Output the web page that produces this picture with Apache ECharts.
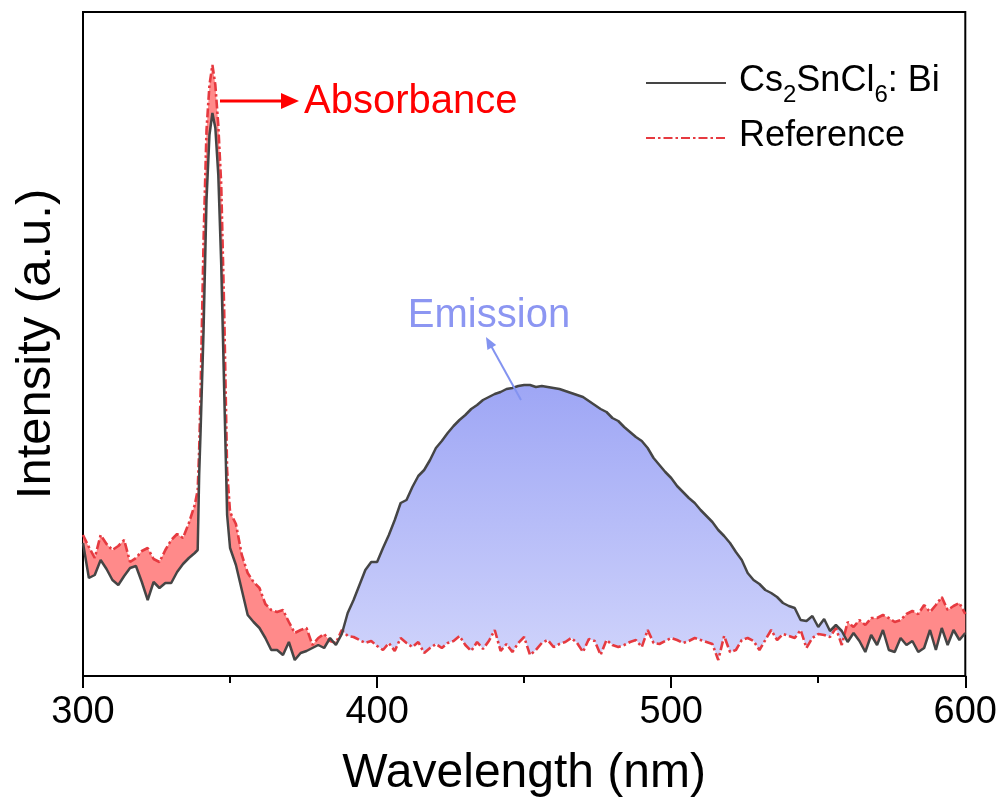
<!DOCTYPE html>
<html>
<head>
<meta charset="utf-8">
<script src="https://cdn.jsdelivr.net/npm/echarts@6/dist/echarts.min.js"></script>
<style>
html,body{margin:0;padding:0;background:#fff;}
#chart{width:1000px;height:812px;}
</style>
</head>
<body>
<div id="chart"></div>
<script>
// Wavelength grid (nm)
const wavelength = [300,302,304,306,308,310,312,314,316,318,320,322,324,326,328,330,332,334,336,338,339,339.5,340,341,342,343,344,345,346,347,348,349,350,352,354,356,358,360,362,364,366,368,370,372,374,376,378,380,382,384,386,388,390,392,394,396,398,400,402,404,406,408,410,412,414,416,418,420,422,424,426,428,430,432,434,436,438,440,442,444,446,448,450,452,454,456,458,460,462,464,466,468,470,472,474,476,478,480,482,484,486,488,490,492,494,496,498,500,502,504,506,508,510,512,514,516,518,520,522,524,526,528,530,532,534,536,538,540,542,544,546,548,550,552,554,556,558,560,562,564,566,568,570,572,574,576,578,580,582,584,586,588,590,592,594,596,598,600];

// Cs2SnCl6: Bi intensity (a.u.)
const sampleIntensity = [133,98,101,116,107,96,91,100,108,110,94,76,94,88,93,93,104,112,118,123,126,201,246,346,476,541,563,548,501,411,286,161,128,111,86,61,54,48,38,26,26,21,34,16,23,25,28,31,28,38,31,42,63,76,91,106,114,114,128,141,156,173,176,189,200,206,216,228,235,243,250,256,261,267,271,276,279,282,284,287,288,290,291,291,289,290,289,288,287,285,283,281,279,275,271,267,264,258,255,249,244,239,235,228,218,211,204,198,190,184,178,173,166,160,154,146,140,133,124,116,103,96,92,86,83,79,73,70,68,56,55,60,49,57,45,51,45,34,43,35,24,41,31,46,26,24,38,31,35,24,28,46,26,48,31,46,36,43];

// Reference intensity (a.u.)
const referenceIntensity = [141,129,118,141,132,126,130,136,114,118,125,128,117,114,126,136,142,138,153,171,186,226,286,436,546,591,611,591,551,491,366,206,164,152,121,103,94,88,72,66,64,66,54,43,46,48,31,38,42,35,33,46,40,39,36,33,35,30,26,33,25,38,33,29,34,23,28,32,28,33,35,40,31,25,34,27,35,46,25,32,24,33,39,21,26,33,36,29,32,34,38,33,24,37,35,21,36,31,29,31,34,36,29,46,33,32,35,38,36,33,35,38,36,34,32,16,40,24,26,36,38,35,26,36,46,36,42,40,38,46,28,38,42,41,39,48,31,54,49,56,51,58,58,61,58,54,56,62,65,62,71,64,71,79,66,70,73,62];

// Axis ticks
const xTicks = [300, 400, 500, 600];

const FONT = '"Liberation Sans", Arial, sans-serif';

const sampleData = wavelength.map((w, i) => [w, sampleIntensity[i]]);
const refData = wavelength.map((w, i) => [w, referenceIntensity[i]]);
const bandData = wavelength.map((w, i) => [w, sampleIntensity[i], referenceIntensity[i]]);

// Split the gap between the two curves into regions where one or the other is on top
function buildRegions() {
  const n = wavelength.length;
  const regions = [];
  const sgn = i => (sampleIntensity[i] - referenceIntensity[i] >= 0 ? 1 : -1);
  let cur = {sign: sgn(0), s: [], r: []};
  for (let i = 0; i < n; i++) {
    cur.s.push([wavelength[i], sampleIntensity[i]]);
    cur.r.push([wavelength[i], referenceIntensity[i]]);
    if (i < n - 1 && sgn(i + 1) !== cur.sign) {
      const d0 = sampleIntensity[i] - referenceIntensity[i];
      const d1 = sampleIntensity[i + 1] - referenceIntensity[i + 1];
      const t = d0 / (d0 - d1);
      const cx = wavelength[i] + t * (wavelength[i + 1] - wavelength[i]);
      const cy = sampleIntensity[i] + t * (sampleIntensity[i + 1] - sampleIntensity[i]);
      cur.s.push([cx, cy]);
      cur.r.push([cx, cy]);
      regions.push(cur);
      cur = {sign: sgn(i + 1), s: [[cx, cy]], r: [[cx, cy]]};
    }
  }
  regions.push(cur);
  return regions;
}
const regions = buildRegions();

const blueGradient = new echarts.graphic.LinearGradient(0, 385, 0, 660, [
  {offset: 0, color: '#9ea6f5'}, {offset: 1, color: '#cfd3fb'}], true);

const chart = echarts.init(document.getElementById('chart'), null, {renderer: 'canvas'});

const option = {
  animation: false,
  backgroundColor: '#ffffff',
  grid: {left: 83, right: 34, top: 12, bottom: 136, show: true, borderColor: '#000', borderWidth: 2, backgroundColor: 'transparent'},
  xAxis: {
    type: 'value', min: xTicks[0], max: xTicks[xTicks.length - 1], interval: 100,
    name: 'Wavelength (nm)', nameLocation: 'middle', nameGap: 74,
    nameTextStyle: {fontSize: 48, fontFamily: FONT, color: '#000'},
    axisLine: {show: true, onZero: false, lineStyle: {color: '#000', width: 2}},
    axisTick: {show: true, inside: false, length: 12, lineStyle: {color: '#000', width: 2}},
    minorTick: {show: true, splitNumber: 2, length: 7, lineStyle: {color: '#000', width: 2}},
    axisLabel: {fontSize: 38, fontFamily: FONT, color: '#000', margin: 18},
    splitLine: {show: false}, minorSplitLine: {show: false}
  },
  yAxis: {
    type: 'value', min: 0, max: 664,
    name: 'Intensity (a.u.)', nameLocation: 'middle', nameGap: 22, nameRotate: 90,
    nameTextStyle: {fontSize: 49, fontFamily: FONT, color: '#000'},
    axisLine: {show: true, lineStyle: {color: '#000', width: 2}},
    axisTick: {show: false}, axisLabel: {show: false}, splitLine: {show: false}
  },
  legend: {
    data: ['Cs2SnCl6: Bi', 'Reference'],
    orient: 'vertical', left: 640, top: 58, itemWidth: 80, itemHeight: 14, itemGap: 11,
    itemStyle: {opacity: 0},
    textStyle: {
      fontSize: 36, fontFamily: FONT, color: '#000', padding: [0, 0, 0, 8],
      rich: {
        n: {fontSize: 36, fontFamily: FONT, color: '#000', lineHeight: 40, verticalAlign: 'top'},
        s: {fontSize: 24, fontFamily: FONT, color: '#000', lineHeight: 24, verticalAlign: 'top', padding: [20, 0, 0, 0]}
      }
    },
    formatter: function (name) {
      if (name === 'Cs2SnCl6: Bi') return '{n|Cs}{s|2}{n|SnCl}{s|6}{n|: Bi}';
      return '{n|' + name + '}';
    }
  },
  series: [
    {
      name: 'fill', type: 'custom', data: bandData, silent: true, z: 1,
      encode: {x: 0, y: [1, 2]},
      renderItem: function (params, api) {
        if (params.dataIndex !== 0) return null;
        const children = regions.map(reg => {
          const pts = reg.s.concat(reg.r.slice().reverse()).map(p => api.coord(p));
          return {
            type: 'polygon', shape: {points: pts},
            style: {fill: reg.sign > 0 ? blueGradient : '#ff8a8a', stroke: null}
          };
        });
        return {type: 'group', children: children};
      }
    },
    {name: 'Reference', type: 'line', data: refData, symbol: 'none', z: 3,
     lineStyle: {color: '#e63a40', width: 2.6, type: [9, 3, 2.5, 3]}, itemStyle: {color: '#e63a40'}},
    {name: 'Cs2SnCl6: Bi', type: 'line', data: sampleData, symbol: 'none', z: 4,
     lineStyle: {color: '#454545', width: 2.5}, itemStyle: {color: '#454545'}}
  ],
  graphic: [
    {type: 'line', shape: {x1: 220, y1: 101, x2: 284, y2: 101}, style: {stroke: '#ff0000', lineWidth: 3}, z: 10},
    {type: 'polygon', shape: {points: [[281, 93], [299, 101], [281, 109]]}, style: {fill: '#ff0000'}, z: 10},
    {type: 'text', x: 304, y: 102, style: {text: 'Absorbance', fill: '#ff0000', fontSize: 40, fontFamily: FONT, verticalAlign: 'middle', align: 'left'}, z: 10},
    {type: 'line', shape: {x1: 521, y1: 400, x2: 490, y2: 344}, style: {stroke: '#8393f0', lineWidth: 2}, z: 10},
    {type: 'polygon', shape: {points: [[486, 337], [496.2, 345.1], [487.4, 349.9]]}, style: {fill: '#8393f0'}, z: 10},
    {type: 'text', x: 489, y: 316, style: {text: 'Emission', fill: '#8c96f2', fontSize: 40, fontFamily: FONT, verticalAlign: 'middle', align: 'center'}, z: 10}
  ]
};
chart.setOption(option);
</script>
</body>
</html>
